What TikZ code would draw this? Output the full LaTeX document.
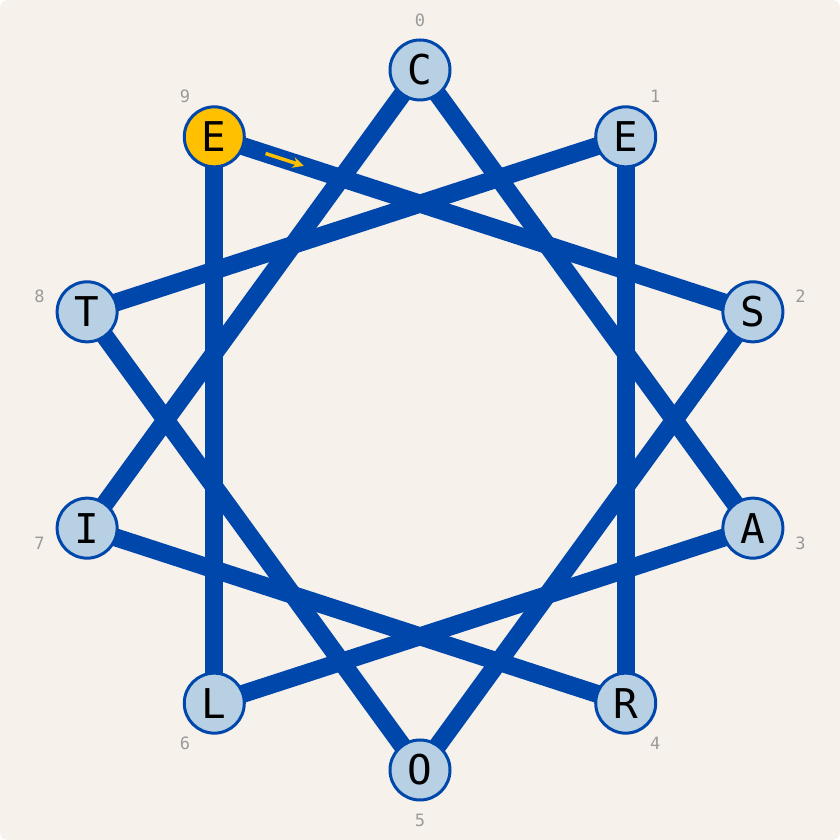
\documentclass[tikz,border=0pt]{standalone}
\usepackage{fontspec}
\setmonofont{DejaVu Sans Mono}
\usetikzlibrary{calc,arrows.meta}
\definecolor{bgc}{HTML}{F7F1EC}
\definecolor{edgeblue}{HTML}{0047AB}
\definecolor{nodefill}{HTML}{B8D0E4}
\definecolor{hilite}{HTML}{FFC000}
\definecolor{idxgray}{HTML}{9A9A9A}
\tikzset{
  letter/.style={circle, draw=edgeblue, line width=3pt, fill=nodefill, minimum size=60pt, inner sep=0pt, font=\ttfamily\fontsize{41}{41}\selectfont, text=black},
  startletter/.style={letter, fill=hilite},
  idx/.style={font=\ttfamily\fontsize{17}{17}\selectfont, text=idxgray},
  chord/.style={draw=edgeblue, line width=18pt},
  dirarrow/.style={draw=hilite, line width=3.5pt, -{Stealth[length=11pt,width=11pt]}}
}
\begin{document}
\begin{tikzpicture}[x=1pt,y=1pt]
\useasboundingbox (0,0) rectangle (840,840);
\fill[white] (0,0) rectangle (840,840);
\fill[bgc, rounded corners=8pt] (0,0) rectangle (840,840);
\coordinate (ctr) at (420,420);
% node positions
\foreach \k/\t in {0/C,1/E,2/S,3/A,4/R,5/O,6/L,7/I,8/T,9/E}{
  \coordinate (p\k) at ($(ctr)+({90-36*\k}:350)$);
  \node[idx] (lab\k) at ($(ctr)+({90-36*\k}:400)$) {\k};
}
% chords
\foreach \a/\b in {0/3,3/6,6/9,9/2,2/5,5/8,8/1,1/4,4/7,7/0}{
  \draw[chord] (p\a) -- (p\b);
}
% nodes
\node[letter] (n0) at (p0) {C};
\node[letter] (n1) at (p1) {E};
\node[letter] (n2) at (p2) {S};
\node[letter] (n3) at (p3) {A};
\node[letter] (n4) at (p4) {R};
\node[letter] (n5) at (p5) {O};
\node[letter] (n6) at (p6) {L};
\node[letter] (n7) at (p7) {I};
\node[letter] (n8) at (p8) {T};
\node[startletter] (n9) at (p9) {E};
% direction arrow
\coordinate (as) at ($(p9)!54pt!(p2)$);
\coordinate (ae) at ($(p9)!94pt!(p2)$);
\draw[dirarrow] (as) -- (ae);
\end{tikzpicture}
\end{document}
